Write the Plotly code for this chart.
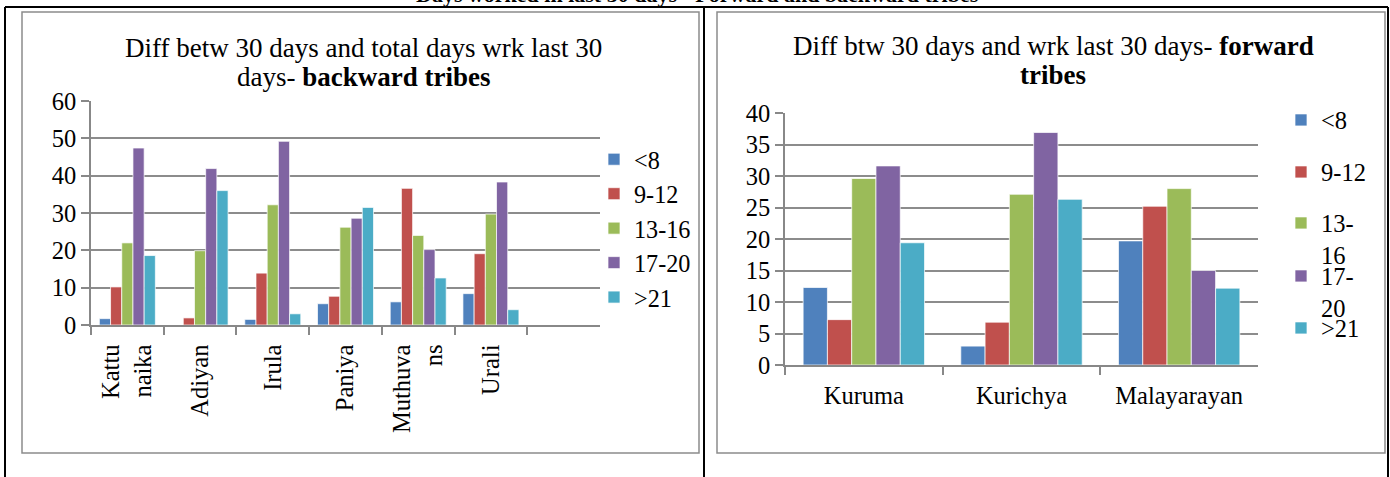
import plotly.graph_objects as go

W, H = 1390, 477
FONT = "Liberation Serif, Times New Roman, serif"

# series (days-not-worked bands) and Excel-2007 style colours
bands = ["<8", "9-12", "13-16", "17-20", ">21"]
right_legend_text = ["<8", "9-12", "13-<br>16", "17-<br>20", ">21"]
colors = ["#4F81BD", "#C0504D", "#9BBB59", "#8064A2", "#4BACC6"]

# backward tribes (left chart)
backward = ["Kattu<br>naika", "Adiyan", "Irula", "Paniya", "Muthuva<br>ns", "Urali"]
bw_lt8 = [1.7, 0, 1.5, 5.7, 6.2, 8.4]
bw_9_12 = [10.2, 1.9, 13.9, 7.7, 36.6, 19.1]
bw_13_16 = [22.0, 19.9, 32.2, 26.2, 24.0, 29.7]
bw_17_20 = [47.4, 41.9, 49.2, 28.6, 20.2, 38.3]
bw_gt21 = [18.6, 36.0, 3.0, 31.5, 12.6, 4.1]

# forward tribes (right chart)
forward = ["Kuruma", "Kurichya", "Malayarayan"]
fw_lt8 = [12.3, 3.0, 19.7]
fw_9_12 = [7.2, 6.8, 25.2]
fw_13_16 = [29.6, 27.1, 28.0]
fw_17_20 = [31.6, 36.9, 15.0]
fw_gt21 = [19.4, 26.3, 12.2]

backward_series = [bw_lt8, bw_9_12, bw_13_16, bw_17_20, bw_gt21]
forward_series = [fw_lt8, fw_9_12, fw_13_16, fw_17_20, fw_gt21]


def px(x):
    return x / W


def py(y):
    return 1 - y / H


fig = go.Figure()

for name, vals, col in zip(bands, backward_series, colors):
    fig.add_trace(go.Bar(
        x=backward, y=vals, name=name,
        marker=dict(color=col, line=dict(color="rgba(255,255,255,0.7)", width=1)),
        xaxis="x", yaxis="y", legend="legend",
    ))

for i, (name, vals, col) in enumerate(zip(right_legend_text, forward_series, colors)):
    fig.add_trace(go.Bar(
        x=forward, y=vals, name=name,
        marker=dict(color=col, line=dict(color="rgba(255,255,255,0.7)", width=1)),
        xaxis="x2", yaxis="y2", legend="legend%d" % (i + 2),
    ))

axis_common = dict(
    showline=True, linecolor="#888888", linewidth=1.5,
    ticks="outside", ticklen=8, tickcolor="#888888", tickwidth=1.5,
    tickfont=dict(family=FONT, size=24.5, color="black"),
)

layout = dict(
    width=W, height=H,
    margin=dict(l=0, r=0, t=0, b=0, autoexpand=False),
    paper_bgcolor="white", plot_bgcolor="white",
    barmode="group", bargap=0.23, bargroupgap=0,
    font=dict(family=FONT, size=24.5, color="black"),
    xaxis=dict(domain=[px(91), px(600)], anchor="y", type="category",
               categoryorder="array", categoryarray=backward, range=[-0.5, 6.5],
               tickson="boundaries", tickangle=-90, showgrid=False,
               ticklabelstandoff=8, **axis_common),
    yaxis=dict(domain=[py(325), py(101)], anchor="x", range=[0, 60], dtick=10,
               showgrid=True, gridcolor="#8c8c8c", gridwidth=1.5, zeroline=False,
               **axis_common),
    xaxis2=dict(domain=[px(785), px(1258)], anchor="y2", type="category",
                tickson="boundaries", showgrid=False, ticklabelstandoff=8,
                **axis_common),
    yaxis2=dict(domain=[py(365), py(113)], anchor="x2", range=[0, 40], dtick=5,
                showgrid=True, gridcolor="#8c8c8c", gridwidth=1.5, zeroline=False,
                **axis_common),
    legend=dict(x=px(594), xanchor="left", y=py(137), yanchor="top",
                bgcolor="rgba(0,0,0,0)", font=dict(family=FONT, size=24.2)),
)

right_marker_y = [120, 172, 223, 276, 328]
for i, yy in enumerate(right_marker_y):
    layout["legend%d" % (i + 2)] = dict(
        x=px(1281), xanchor="left", y=py(yy - 22.5), yanchor="top", valign="top",
        bgcolor="rgba(0,0,0,0)", font=dict(family=FONT, size=24.5),
    )

fig.update_layout(**layout)

# table cell borders and chart frames
line_black = dict(color="black", width=2)
frame = dict(color="#8c8c8c", width=1.5)
shapes = [
    dict(type="line", xref="paper", yref="paper", x0=px(5), x1=px(1388), y0=py(7), y1=py(7), line=line_black),
    dict(type="line", xref="paper", yref="paper", x0=px(5), x1=px(5), y0=py(7), y1=0, line=line_black),
    dict(type="line", xref="paper", yref="paper", x0=px(704), x1=px(704), y0=py(7), y1=0, line=line_black),
    dict(type="line", xref="paper", yref="paper", x0=px(1388), x1=px(1388), y0=py(7), y1=0, line=line_black),
    dict(type="rect", xref="paper", yref="paper", x0=px(22), x1=px(699), y0=py(453), y1=py(12), line=frame),
    dict(type="rect", xref="paper", yref="paper", x0=px(717), x1=px(1385), y0=py(453), y1=py(12), line=frame),
]
fig.update_layout(shapes=shapes)

title_font = dict(family=FONT, size=27, color="black")
annotations = [
    dict(text="Diff betw 30 days and total days wrk last 30", x=px(363), y=py(48)),
    dict(text="days- <b>backward tribes</b>", x=px(363), y=py(77)),
    dict(text="Diff btw 30 days and wrk last 30 days- <b>forward</b>", x=px(1053), y=py(46)),
    dict(text="<b>tribes</b>", x=px(1053), y=py(75)),
    dict(text="<b>Days worked in last 30 days - Forward and backward tribes</b>",
         x=px(697), y=py(-6), font=dict(family=FONT, size=22, color="black")),
]
for a in annotations:
    a.update(xref="paper", yref="paper", xanchor="center", yanchor="middle", showarrow=False)
    a.setdefault("font", title_font)
fig.update_layout(annotations=annotations)

# page body has a default 8px margin; remove it so the figure sits at the corner
fig.write_html("out.html", config={"displayModeBar": False},
               post_script="document.body.style.margin='0';")
